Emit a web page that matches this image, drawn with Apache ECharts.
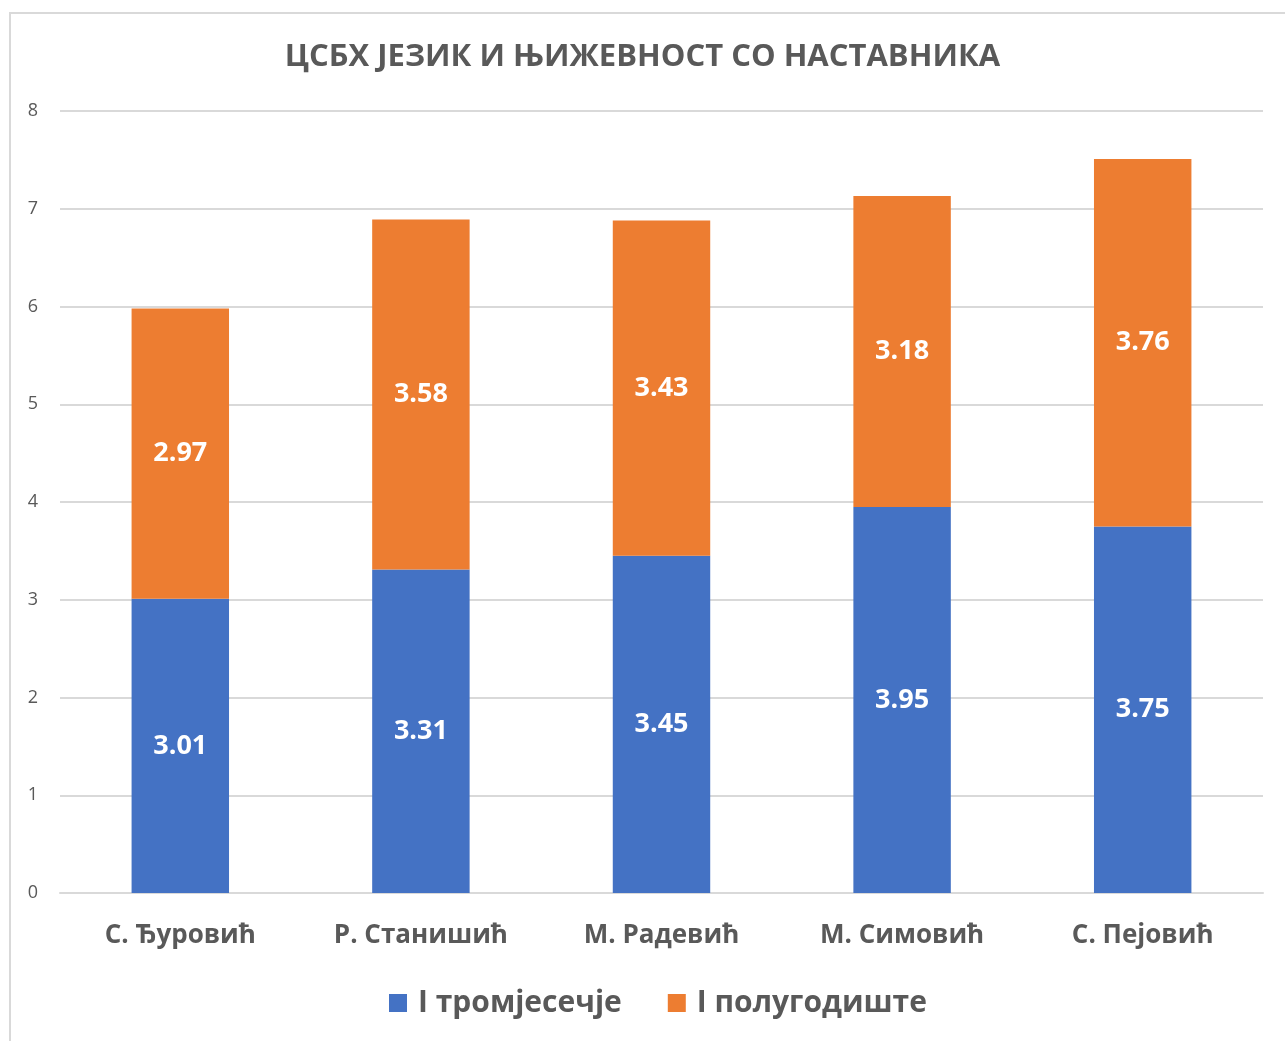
<!DOCTYPE html>
<html>
<head>
<meta charset="utf-8">
<script src="https://cdn.jsdelivr.net/npm/echarts@6/dist/echarts.min.js"></script>
<style>
  html, body { margin: 0; padding: 0; background: #fff; }
  #main { width: 1285px; height: 1041px; }
</style>
</head>
<body>
<div id="main"></div>
<script>
const teachers = ['С. Ђуровић', 'Р. Станишић', 'М. Радевић', 'М. Симовић', 'С. Пејовић'];
const firstQuarter = [3.01, 3.31, 3.45, 3.95, 3.75];
const firstHalf = [2.97, 3.58, 3.43, 3.18, 3.76];
const seriesNames = ['І тромјесечје', 'І полугодиште'];

const font = '"Open Sans", "Noto Sans", sans-serif';
const textGrey = '#595959';

const myChart = echarts.init(document.getElementById('main'));

const labelStyle = {
  show: true,
  position: 'inside',
  color: '#fff',
  fontFamily: font,
  fontWeight: 'bold',
  fontSize: 27,
  formatter: (p) => p.value.toFixed(2),
};

const option = {
  backgroundColor: '#fff',
  animation: false,
  // thin frame round the chart area, like the Excel export
  graphic: [{
    type: 'rect',
    shape: { x: 10, y: 13, width: 1300, height: 1060 },
    style: { fill: 'none', stroke: '#d9d9d9', lineWidth: 2 },
    silent: true,
  }],
  title: {
    text: 'ЦСБХ ЈЕЗИК И ЊИЖЕВНОСТ СО НАСТАВНИКА',
    left: 'center',
    top: 37,
    textStyle: {
      color: textGrey,
      fontFamily: font,
      fontWeight: 'bold',
      fontSize: 31,
    },
  },
  legend: {
    data: seriesNames,
    bottom: 18,
    left: 384,
    icon: 'rect',
    itemWidth: 18,
    itemHeight: 18,
    itemGap: 46,
    textStyle: {
      color: textGrey,
      fontFamily: font,
      fontWeight: 'bold',
      fontSize: 30,
      padding: [0, 0, 0, 6],
    },
  },
  grid: {
    left: 60,
    right: 22,
    top: 111,
    bottom: 148,
    containLabel: false,
  },
  xAxis: {
    type: 'category',
    data: teachers,
    axisLine: { lineStyle: { color: '#d9d9d9', width: 2 } },
    axisTick: { show: false },
    axisLabel: {
      color: textGrey,
      fontFamily: font,
      fontWeight: 'bold',
      fontSize: 26,
      margin: 30,
    },
  },
  yAxis: {
    type: 'value',
    min: 0,
    max: 8,
    interval: 1,
    axisLine: { show: false },
    axisTick: { show: false },
    splitLine: { lineStyle: { color: '#d9d9d9', width: 2 } },
    axisLabel: {
      color: textGrey,
      fontFamily: font,
      fontSize: 18,
      margin: 22,
    },
  },
  series: [
    {
      name: seriesNames[0],
      type: 'bar',
      stack: 'total',
      barWidth: '40.5%',
      data: firstQuarter,
      itemStyle: { color: '#4472c4' },
      label: labelStyle,
    },
    {
      name: seriesNames[1],
      type: 'bar',
      stack: 'total',
      barWidth: '40.5%',
      data: firstHalf,
      itemStyle: { color: '#ed7d31' },
      label: labelStyle,
    },
  ],
};

myChart.setOption(option);
</script>
</body>
</html>
